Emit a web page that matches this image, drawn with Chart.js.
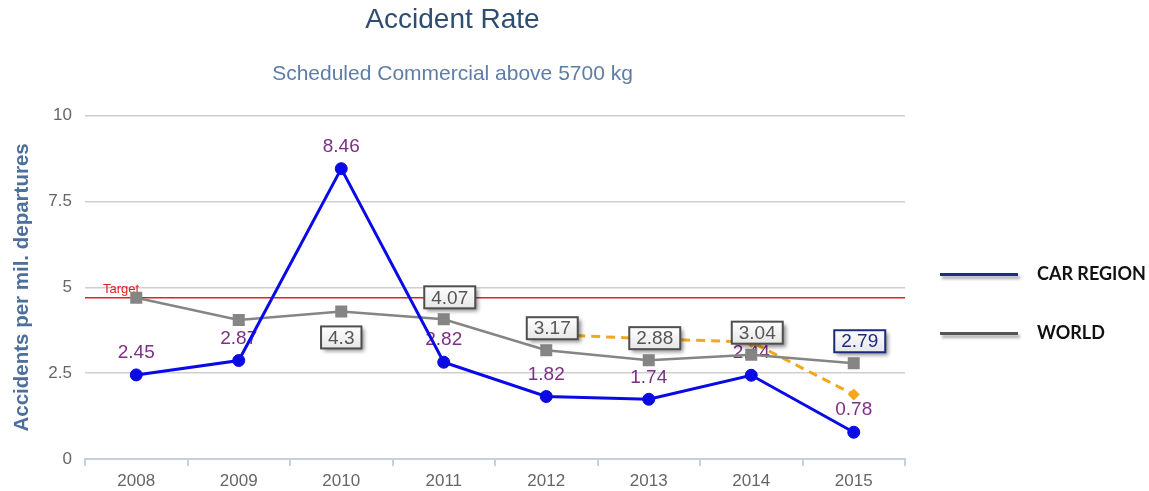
<!DOCTYPE html>
<html>
<head>
<meta charset="utf-8">
<script src="https://cdn.jsdelivr.net/npm/chart.js@4/dist/chart.umd.min.js"></script>
<style>
  body { margin: 0; background: #fff; }
  #wrap { width: 1149px; height: 491px; position: relative; }
</style>
</head>
<body>
<div id="wrap"><canvas id="chart"></canvas></div>
<script>
// Accident Rate - CAR region vs world
const years = ['2008', '2009', '2010', '2011', '2012', '2013', '2014', '2015'];
const carRegion = [2.45, 2.87, 8.46, 2.82, 1.82, 1.74, 2.44, 0.78];
const world = [4.7, 4.05, 4.3, 4.07, 3.17, 2.88, 3.04, 2.79];
const trend = [null, null, null, null, 3.64, 3.5, 3.41, 1.88];
const targetValue = 4.7;
const yTicks = [0, 2.5, 5, 7.5, 10];

Chart.defaults.font.family = "'Liberation Sans', Arial, sans-serif";

const ctx = document.getElementById('chart').getContext('2d');

// red target line across the whole plot
const targetLine = {
    id: 'targetLine',
    beforeDatasetsDraw(chart) {
        const { ctx, chartArea } = chart;
        const y = chart.scales.y.getPixelForValue(targetValue);
        ctx.save();
        ctx.strokeStyle = '#d9232a';
        ctx.lineWidth = 1.5;
        ctx.beginPath();
        ctx.moveTo(chartArea.left, y);
        ctx.lineTo(chartArea.right, y);
        ctx.stroke();
        ctx.fillStyle = '#d9232a';
        ctx.font = "13px 'Liberation Sans', Arial, sans-serif";
        ctx.textBaseline = 'middle';
        ctx.fillText('Target', chartArea.left + 18, y - 8);
        ctx.restore();
    }
};

// value labels: plain purple for the region, boxed for the world
const valueLabels = {
    id: 'valueLabels',
    beforeDatasetsDraw(chart) {
        const { ctx } = chart;
        const meta = chart.getDatasetMeta(0);
        ctx.save();
        ctx.font = "19px 'Liberation Sans', Arial, sans-serif";
        ctx.fillStyle = '#7d2f86';
        ctx.textAlign = 'center';
        ctx.textBaseline = 'middle';
        meta.data.forEach((pt, i) => {
            ctx.fillText(carRegion[i].toString(), pt.x, pt.y - 22);
        });
        ctx.restore();
    },
    afterDatasetsDraw(chart) {
        const { ctx } = chart;
        const meta = chart.getDatasetMeta(1);
        ctx.save();
        ctx.font = "19px 'Liberation Sans', Arial, sans-serif";
        ctx.textAlign = 'center';
        ctx.textBaseline = 'middle';
        meta.data.forEach((pt, i) => {
            if (i < 2) return;
            const text = world[i].toString();
            const below = i === 2;
            const last = i === world.length - 1;
            const w = ctx.measureText(text).width + 14;
            const h = 22;
            const cx = below ? pt.x : pt.x + 6;
            const cy = below ? pt.y + 26 : pt.y - 22;
            ctx.save();
            ctx.shadowColor = 'rgba(0,0,0,0.45)';
            ctx.shadowOffsetX = 3;
            ctx.shadowOffsetY = 3;
            ctx.shadowBlur = 4;
            const g = ctx.createLinearGradient(0, cy - h / 2, 0, cy + h / 2);
            g.addColorStop(0, '#ffffff');
            g.addColorStop(1, '#e6e6e6');
            ctx.fillStyle = g;
            ctx.fillRect(cx - w / 2, cy - h / 2, w, h);
            ctx.restore();
            ctx.lineWidth = 2;
            ctx.strokeStyle = last ? '#1c2a80' : '#4f4f4f';
            ctx.strokeRect(cx - w / 2, cy - h / 2, w, h);
            ctx.fillStyle = last ? '#1c2a80' : '#555555';
            ctx.fillText(text, cx, cy + 1);
        });
        ctx.restore();
    }
};

// legend on the right, outside the plot
const sideLegend = {
    id: 'sideLegend',
    afterDraw(chart) {
        const { ctx, chartArea } = chart;
        const items = [
            { text: 'CAR REGION', color: '#1d2a8a', dy: -13 },
            { text: 'WORLD', color: '#555555', dy: 46 }
        ];
        const mid = (chartArea.top + chartArea.bottom) / 2;
        ctx.save();
        items.forEach(it => {
            const y = mid + it.dy;
            const x0 = chartArea.right + 35;
            ctx.save();
            ctx.shadowColor = 'rgba(0,0,0,0.35)';
            ctx.shadowOffsetX = 2;
            ctx.shadowOffsetY = 3;
            ctx.shadowBlur = 3;
            ctx.strokeStyle = it.color;
            ctx.lineWidth = 3;
            ctx.beginPath();
            ctx.moveTo(x0, y);
            ctx.lineTo(x0 + 78, y);
            ctx.stroke();
            ctx.restore();
            ctx.fillStyle = '#111';
            ctx.font = "bold 18px Lato, 'Open Sans', sans-serif";
            ctx.textBaseline = 'middle';
            ctx.fillText(it.text, x0 + 97, y);
        });
        ctx.restore();
    }
};

new Chart(ctx, {
    type: 'line',
    data: {
        labels: years,
        datasets: [
            {
                label: 'CAR REGION',
                data: carRegion,
                borderColor: '#0a0ae6',
                backgroundColor: '#0a0ae6',
                borderWidth: 3,
                pointRadius: 6,
                pointBorderWidth: 1,
                pointStyle: 'circle',
                tension: 0
            },
            {
                label: 'WORLD',
                data: world,
                borderColor: '#858585',
                backgroundColor: '#858585',
                borderWidth: 2.5,
                pointRadius: 8.5,
                pointBorderWidth: 0,
                pointStyle: 'rect',
                tension: 0
            },
            {
                label: 'Trend',
                data: trend,
                borderColor: '#f4a71d',
                backgroundColor: '#f4a71d',
                borderWidth: 3,
                borderDash: [9, 6],
                pointRadius: 6,
                pointBorderWidth: 0,
                pointStyle: 'rectRot',
                tension: 0
            }
        ]
    },
    options: {
        responsive: true,
        maintainAspectRatio: false,
        animation: false,
        layout: { padding: { top: 0, right: 244, bottom: 0, left: 0 } },
        plugins: {
            legend: { display: false },
            tooltip: { enabled: false },
            title: {
                display: true,
                text: 'Accident Rate',
                color: '#2e4d70',
                font: { size: 28, weight: 'normal' },
                padding: { top: 3, bottom: 8 }
            },
            subtitle: {
                display: true,
                text: 'Scheduled Commercial above 5700 kg',
                color: '#5d7da6',
                font: { size: 21 },
                padding: { top: 17, bottom: 29 }
            }
        },
        scales: {
            x: {
                offset: true,
                grid: {
                    display: true,
                    drawOnChartArea: false,
                    offset: true,
                    tickLength: 7,
                    color: '#c5d0de',
                    lineWidth: 2
                },
                border: { display: true, color: '#c5d0de', width: 2 },
                ticks: { color: '#666', font: { size: 17 }, padding: 5 },
                afterFit(scale) { scale.height = 32; }
            },
            y: {
                min: 0,
                max: 10,
                afterBuildTicks(scale) { scale.ticks = yTicks.map(v => ({ value: v })); },
                grid: { color: '#cfcfcf', lineWidth: 1.5, drawTicks: false },
                border: { display: false },
                ticks: { color: '#666', font: { size: 17 }, padding: 13 },
                title: {
                    display: true,
                    text: 'Accidents per mil. departures',
                    color: '#4c6f9c',
                    font: { size: 20.5, weight: 'bold' },
                    padding: { top: 10, bottom: 0 }
                },
                afterFit(scale) { scale.width = 85; }
            }
        }
    },
    plugins: [targetLine, valueLabels, sideLegend]
});
</script>
</body>
</html>
